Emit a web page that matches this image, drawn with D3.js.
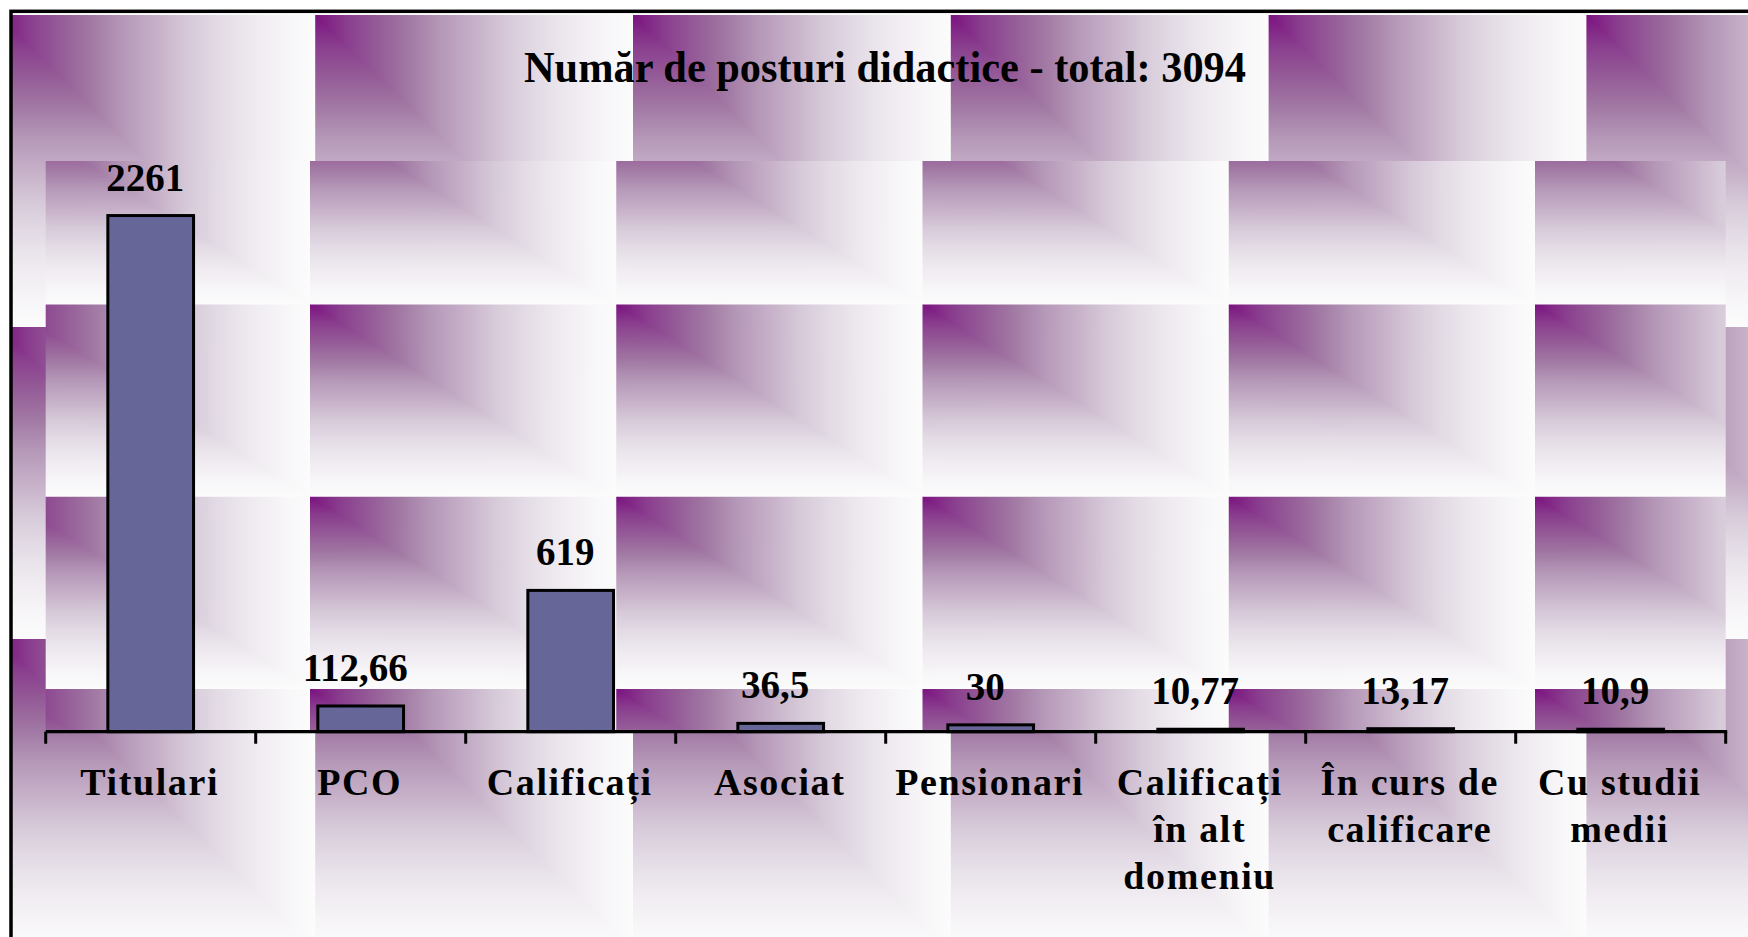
<!DOCTYPE html>
<html>
<head>
<meta charset="utf-8">
<script src="https://cdn.jsdelivr.net/npm/d3@7"></script>
<style>
  html, body { margin: 0; padding: 0; background: #ffffff; }
  svg { display: block; }
  text { font-family: "Times New Roman", "Liberation Serif", serif; font-weight: bold; fill: #000; }
</style>
</head>
<body>
<svg id="chart" width="1748" height="937"></svg>
<script>
// Posturi didactice pe categorii
const title = "Număr de posturi didactice - total: 3094";
const categories = ["Titulari", "PCO", "Calificați", "Asociat", "Pensionari",
                    "Calificați în alt domeniu", "În curs de calificare", "Cu studii medii"];
const categoryLines = [["Titulari"], ["PCO"], ["Calificați"], ["Asociat"], ["Pensionari"],
                       ["Calificați", "în alt", "domeniu"], ["În curs de", "calificare"], ["Cu studii", "medii"]];
const values = [2261, 112.66, 619, 36.5, 30, 10.77, 13.17, 10.9];
const yDomain = [0, 2500];

// layout
const W = 1748, H = 937;
const plot = { left: 45.7, right: 1725.7, top: 161, bottom: 731.7 };

const svg = d3.select("#chart");
const defs = svg.append("defs");

// corner gradient: deep purple in the tile corner fading to white
const rampStops = [
  [0.00, "#7b1280"], [0.10, "#8a3e8e"], [0.20, "#955c98"], [0.30, "#a27aa4"],
  [0.40, "#b699b9"], [0.50, "#c6b0c8"], [0.60, "#d6c9d8"], [0.70, "#e3dbe5"],
  [0.80, "#eee9ef"], [0.90, "#f6f4f7"], [1.00, "#fcfcfc"]
];
function ramp(id, x2, y2) {
  const g = defs.append("linearGradient").attr("id", id)
    .attr("x1", 0).attr("y1", 0).attr("x2", x2).attr("y2", y2);
  g.selectAll("stop").data(rampStops).join("stop")
    .attr("offset", d => d[0]).attr("stop-color", d => d[1]);
}
ramp("rampH", 1, 0);
ramp("rampV", 0, 1);

function tilePattern(id, x, y, w, h) {
  const p = defs.append("pattern").attr("id", id)
    .attr("patternUnits", "userSpaceOnUse")
    .attr("x", x).attr("y", y).attr("width", w).attr("height", h);
  p.append("rect").attr("width", w).attr("height", h).attr("fill", "url(#rampV)");
  p.append("path").attr("d", `M0,0L${w},0L${w},${h}Z`).attr("fill", "url(#rampH)");
}
tilePattern("tileOuter", -2.6, 15, 317.8, 312);
tilePattern("tilePlot", 3.75, 112.25, 306.25, 192.25);

// chart area with frame
svg.append("rect")
  .attr("x", 11).attr("y", 11.3).attr("width", W + 20).attr("height", H + 20)
  .attr("fill", "url(#tileOuter)")
  .attr("stroke", "#000").attr("stroke-width", 3.5);

// plot area
svg.append("rect")
  .attr("x", plot.left).attr("y", plot.top)
  .attr("width", plot.right - plot.left).attr("height", plot.bottom - plot.top)
  .attr("fill", "url(#tilePlot)");

// scales
const gap = 1.45;
const x = d3.scaleBand().domain(categories).range([plot.left, plot.right])
  .paddingInner(gap / (1 + gap)).paddingOuter(gap / (1 + gap) / 2);
const y = d3.scaleLinear().domain(yDomain).range([plot.bottom, plot.top]);
const step = x.step();

// title
svg.append("text")
  .attr("x", 885).attr("y", 82)
  .attr("text-anchor", "middle")
  .attr("font-size", 44)
  .attr("textLength", 722).attr("lengthAdjust", "spacingAndGlyphs")
  .text(title);

// bars
const data = categories.map((c, i) => ({ c, v: values[i], lines: categoryLines[i] }));
svg.append("g").selectAll("rect").data(data).join("rect")
  .attr("x", d => x(d.c))
  .attr("y", d => y(d.v))
  .attr("width", x.bandwidth())
  .attr("height", d => y(0) - y(d.v))
  .attr("fill", "#666699")
  .attr("stroke", "#000").attr("stroke-width", 3);

// value labels
const fmt = v => String(v).replace(".", ",");
svg.append("g").selectAll("text").data(data).join("text")
  .attr("x", d => x(d.c) + x.bandwidth() / 2 - 5.5)
  .attr("y", d => y(d.v) - 25)
  .attr("text-anchor", "middle")
  .attr("font-size", 39)
  .text(d => fmt(d.v));

// category axis
const axis = svg.append("g");
axis.append("line")
  .attr("x1", plot.left).attr("x2", plot.right + 1.5)
  .attr("y1", plot.bottom).attr("y2", plot.bottom)
  .attr("stroke", "#000").attr("stroke-width", 3.3);
axis.selectAll("line.tick").data(d3.range(categories.length + 1)).join("line")
  .attr("class", "tick")
  .attr("x1", i => plot.left + i * step).attr("x2", i => plot.left + i * step)
  .attr("y1", plot.bottom).attr("y2", plot.bottom + 12)
  .attr("stroke", "#000").attr("stroke-width", 3);

const labels = axis.selectAll("text").data(data).join("text")
  .attr("text-anchor", "middle")
  .attr("font-size", 38)
  .attr("letter-spacing", "1.6px");
labels.selectAll("tspan").data(d => d.lines.map(t => ({ t, c: d.c }))).join("tspan")
  .attr("x", d => x(d.c) + x.bandwidth() / 2 - 1)
  .attr("y", (d, i) => 795 + i * 47)
  .text(d => d.t);
</script>
</body>
</html>
